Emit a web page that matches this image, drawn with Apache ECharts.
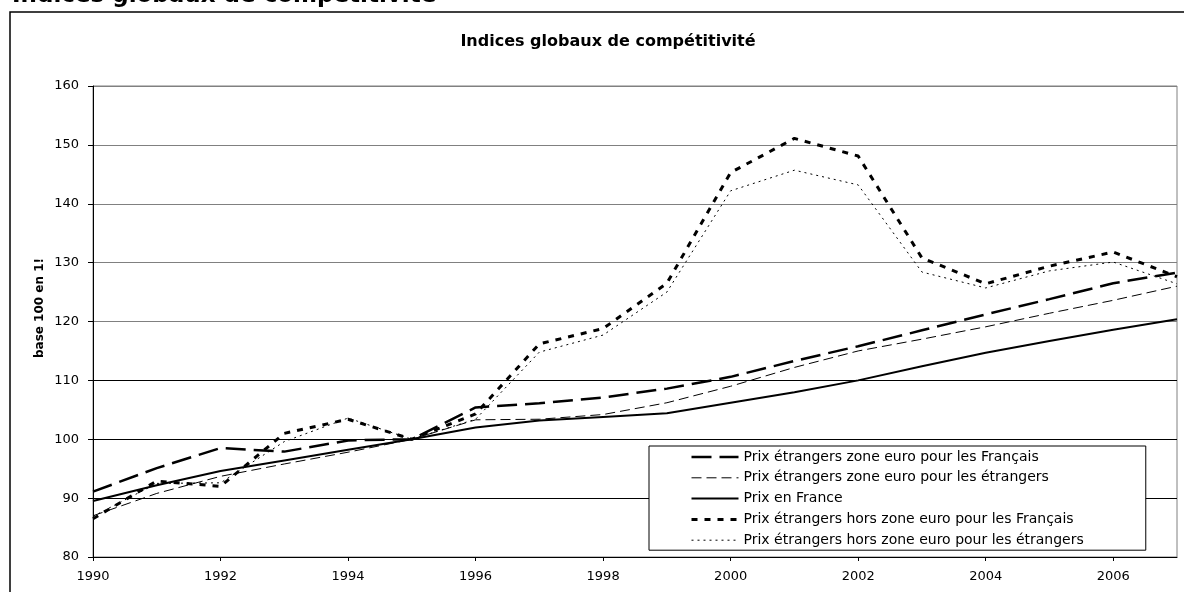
<!DOCTYPE html>
<html lang="fr">
<head>
    <meta charset="UTF-8">
    <title>Indices globaux de compétitivité</title>
    <style>
        html, body { margin: 0; padding: 0; background: #fff; }
        #chart { width: 1184px; height: 592px; }
    </style>
</head>
<body>
    <div id="chart"></div>
    <script src="https://cdn.jsdelivr.net/npm/echarts@6/dist/echarts.min.js"></script>
    <script>
    // années (axe x)
    var years = ['1990', '1991', '1992', '1993', '1994', '1995', '1996', '1997', '1998',
                 '1999', '2000', '2001', '2002', '2003', '2004', '2005', '2006', '2007'];

    // séries
    var zoneEuroFrancais = [91.1, 95.1, 98.5, 97.9, 99.8, 100, 105.4, 106.1, 107.1,
                            108.6, 110.6, 113.3, 115.8, 118.5, 121.2, 123.8, 126.5, 128.3];
    var zoneEuroEtrangers = [87.0, 90.8, 93.7, 95.8, 97.8, 100, 103.3, 103.4, 104.2,
                             106.2, 109.0, 112.2, 115.0, 117.0, 119.1, 121.4, 123.6, 126.0];
    var prixFrance = [89.5, 92.2, 94.6, 96.4, 98.2, 100, 102.0, 103.2, 103.8,
                      104.4, 106.2, 108.0, 110.0, 112.4, 114.7, 116.7, 118.6, 120.4];
    var horsZoneFrancais = [86.5, 92.9, 92.0, 101.0, 103.4, 100, 104.3, 116.2, 118.8,
                            126.5, 145.3, 151.1, 148.1, 130.8, 126.4, 129.4, 131.8, 127.6];
    var horsZoneEtrangers = [86.9, 92.5, 92.6, 99.6, 103.6, 100, 103.4, 114.8, 117.7,
                             125.0, 142.2, 145.7, 143.2, 128.4, 125.7, 128.6, 130.1, 126.4];

    var seriesNames = [
        'Prix étrangers zone euro pour les Français',
        'Prix étrangers zone euro pour les étrangers',
        'Prix en France',
        'Prix étrangers hors zone euro pour les Français',
        'Prix étrangers hors zone euro pour les étrangers'
    ];

    // style des traits : épaisseur et tirets
    var traits = [
        { width: 2.5, type: [20, 8] },
        { width: 1, type: [10, 5] },
        { width: 2, type: 'solid' },
        { width: 3, type: [6, 7] },
        { width: 1, type: [2, 4] }
    ];

    var FONT = 'DejaVu Sans';

    function ligne(i, data) {
        return {
            name: seriesNames[i],
            type: 'line',
            data: data,
            symbol: 'none',
            showSymbol: false,
            lineStyle: { color: '#000', width: traits[i].width, type: traits[i].type },
            itemStyle: { color: '#000' }
        };
    }

    var chart = echarts.init(document.getElementById('chart'));

    var option = {
        animation: false,
        backgroundColor: '#fff',
        title: {
            text: 'Indices globaux de compétitivité',
            left: 603,
            textAlign: 'center',
            top: 29,
            textStyle: { fontFamily: FONT, fontSize: 16, fontWeight: 'bold', color: '#000' }
        },
        graphic: [
            // cadre du document
            {
                type: 'rect',
                shape: { x: 10, y: 12, width: 1300, height: 700 },
                style: { fill: null, stroke: '#000', lineWidth: 1.5 },
                silent: true
            },
            // titre de section coupé en haut
            {
                type: 'text',
                x: 12,
                y: 8,
                style: {
                    text: 'Indices globaux de compétitivité',
                    font: 'bold 23px "DejaVu Sans"',
                    fill: '#000',
                    verticalAlign: 'bottom'
                }
            },
            // titre de l'axe y
            {
                type: 'text',
                x: 40,
                y: 308,
                rotation: Math.PI / 2,
                style: {
                    text: 'base 100 en 1!',
                    font: 'bold 12px "DejaVu Sans"',
                    fill: '#000',
                    align: 'center',
                    verticalAlign: 'middle'
                }
            }
        ],
        legend: {
            orient: 'vertical',
            left: 649,
            top: 446,
            padding: [4, 62, 3, 41],
            itemWidth: 47,
            itemHeight: 14,
            itemGap: 6.8,
            itemStyle: { opacity: 0 },
            backgroundColor: '#fff',
            borderColor: '#000',
            borderWidth: 1,
            borderRadius: 0,
            textStyle: { fontFamily: FONT, fontSize: 14, color: '#000' },
            data: seriesNames.map(function (n, i) {
                return { name: n, lineStyle: { color: '#000', width: traits[i].width, type: traits[i].type } };
            })
        },
        grid: {
            left: 93,
            right: 7,
            top: 86,
            bottom: 35,
            show: true,
            borderColor: '#808080',
            borderWidth: 1
        },
        xAxis: {
            type: 'category',
            data: years,
            boundaryGap: false,
            axisLine: { lineStyle: { color: '#000', width: 1 } },
            axisTick: { show: true, interval: 1, length: 4, lineStyle: { color: '#000' } },
            axisLabel: { interval: 1, margin: 13, fontFamily: FONT, fontSize: 13, color: '#000' },
            splitLine: { show: false }
        },
        yAxis: {
            type: 'value',
            min: 80,
            max: 160,
            interval: 10,
            axisLine: { show: true, lineStyle: { color: '#000', width: 1 } },
            axisTick: { show: true, length: 5, lineStyle: { color: '#000' } },
            axisLabel: { margin: 14, fontFamily: FONT, fontSize: 13, color: '#000' },
            splitLine: {
                show: true,
                lineStyle: {
                    color: ['#000', '#000', '#000', '#000', '#808080', '#808080', '#808080', '#808080', '#808080'],
                    width: 1
                }
            }
        },
        series: [
            ligne(0, zoneEuroFrancais),
            ligne(1, zoneEuroEtrangers),
            ligne(2, prixFrance),
            ligne(3, horsZoneFrancais),
            ligne(4, horsZoneEtrangers)
        ]
    };

    chart.setOption(option);
    </script>
</body>
</html>
